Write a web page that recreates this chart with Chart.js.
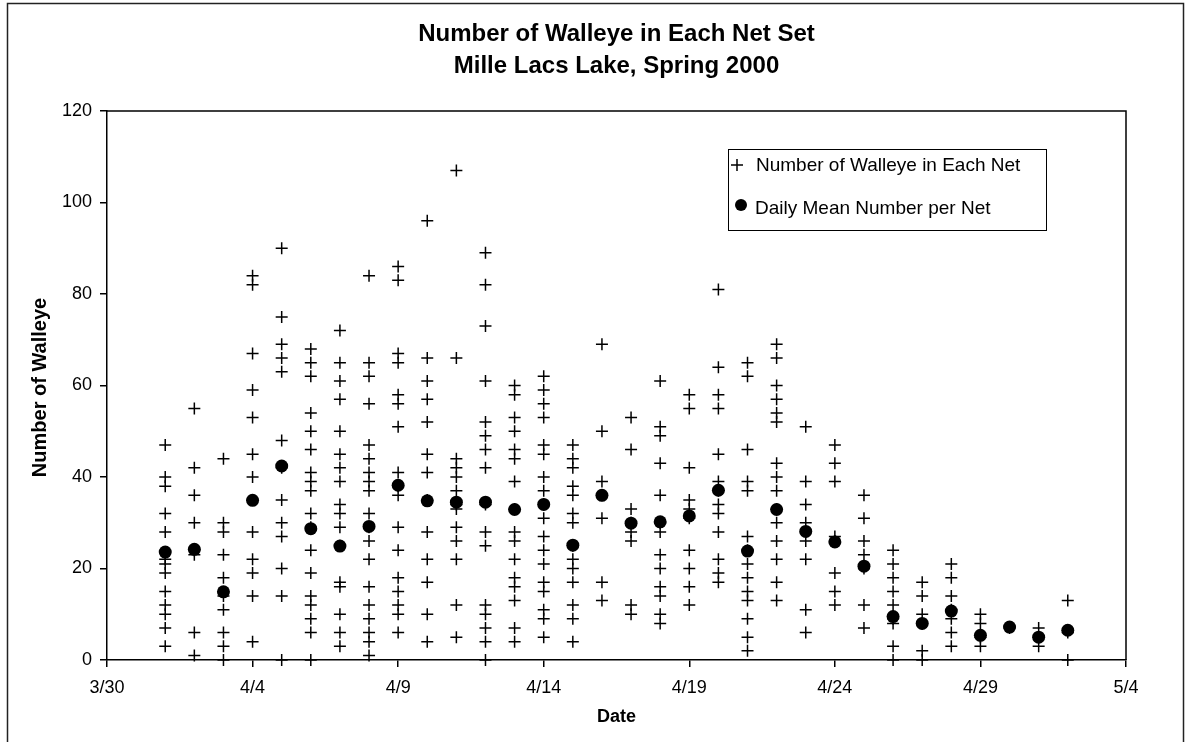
<!DOCTYPE html>
<html>
<head>
<meta charset="utf-8">
<script src="https://cdn.jsdelivr.net/npm/chart.js@4.4.1/dist/chart.umd.min.js"></script>
<style>
  body { margin: 0; background: #fff; }
  #chart { display: block; }
</style>
</head>
<body>
<canvas id="chart" width="1188" height="742"></canvas>
<script>
// データ
const netDates = ['4/1', '4/2', '4/3', '4/4', '4/5', '4/6', '4/7', '4/8', '4/9', '4/10',
  '4/11', '4/12', '4/13', '4/14', '4/15', '4/16', '4/17', '4/18', '4/19', '4/20',
  '4/21', '4/22', '4/23', '4/24', '4/25', '4/26', '4/27', '4/28', '4/29', '4/30',
  '5/1', '5/2'];

// number of walleye in each net, one list per date
const netCounts = [
  [47, 40, 38, 32, 28, 22, 21, 19, 15, 12, 10, 7, 3],
  [55, 42, 36, 30, 24, 23, 6, 1],
  [44, 30, 28, 23, 18, 14, 11, 6, 3, 0],
  [84, 82, 67, 59, 53, 45, 40, 35, 28, 22, 19, 14, 4],
  [90, 75, 69, 66, 63, 48, 42, 35, 30, 27, 20, 14, 0],
  [68, 65, 62, 54, 50, 46, 41, 39, 37, 32, 29, 24, 19, 14, 12, 9, 6, 0],
  [72, 65, 61, 57, 50, 45, 42, 39, 34, 32, 29, 25, 17, 16, 10, 6, 3],
  [84, 65, 62, 56, 47, 44, 41, 39, 37, 32, 29, 26, 22, 16, 12, 9, 6, 4, 1],
  [86, 83, 67, 65, 58, 56, 51, 41, 38, 36, 29, 24, 18, 15, 12, 10, 6],
  [96, 66, 61, 57, 52, 45, 41, 35, 28, 22, 17, 10, 4],
  [107, 66, 44, 42, 40, 37, 34, 33, 29, 26, 22, 12, 5],
  [89, 82, 73, 61, 52, 49, 46, 42, 34, 28, 25, 12, 10, 7, 4, 0],
  [60, 58, 53, 50, 46, 44, 39, 33, 28, 26, 22, 18, 16, 13, 7, 4],
  [62, 59, 56, 53, 47, 45, 40, 37, 34, 31, 27, 24, 21, 17, 15, 11, 9, 5],
  [47, 44, 42, 38, 36, 32, 30, 25, 22, 20, 17, 12, 9, 4],
  [69, 50, 39, 36, 31, 17, 13],
  [53, 46, 33, 30, 28, 26, 12, 10],
  [61, 51, 49, 43, 36, 30, 28, 23, 20, 16, 14, 10, 8],
  [58, 55, 42, 35, 33, 31, 24, 20, 16, 12],
  [81, 64, 58, 55, 45, 39, 37, 34, 32, 28, 22, 19, 17],
  [65, 62, 46, 39, 37, 27, 24, 21, 18, 15, 13, 9, 5, 2],
  [69, 66, 60, 57, 54, 52, 43, 40, 37, 33, 30, 26, 22, 17, 13],
  [51, 39, 34, 30, 28, 26, 22, 11, 6],
  [47, 43, 39, 27, 26, 19, 15, 12],
  [36, 31, 26, 23, 20, 12, 7],
  [24, 21, 18, 15, 12, 9, 8, 3, 0],
  [17, 14, 10, 8, 2, 0],
  [21, 18, 14, 11, 9, 6, 3],
  [10, 8, 5, 3],
  [7],
  [7, 5, 3],
  [13, 6, 0]
];

const dailyMeans = [23.6, 24.2, 14.9, 34.9, 42.4, 28.7, 24.9, 29.2, 38.2, 34.8,
  34.5, 34.5, 32.9, 34.0, 25.1, 36.0, 29.9, 30.2, 31.5, 37.1,
  23.8, 32.9, 28.1, 25.8, 20.5, 9.5, 8.0, 10.7, 5.4, 7.2,
  5.0, 6.5];

const xTickLabels = ['3/30', '4/4', '4/9', '4/14', '4/19', '4/24', '4/29', '5/4'];
const yTicks = [0, 20, 40, 60, 80, 100, 120];

const FONT = '"Liberation Sans", Arial, sans-serif';

// 3/30 を 0 とした日数
function dayOffset(label) {
  const [m, d] = label.split('/').map(Number);
  if (m === 3) return d - 30;
  if (m === 4) return d + 1;
  return d + 31;
}

const netPoints = [];
netDates.forEach((date, i) => {
  netCounts[i].forEach(c => netPoints.push({ x: dayOffset(date), y: c }));
});
const meanPoints = netDates.map((date, i) => ({ x: dayOffset(date), y: dailyMeans[i] }));

// タイトル・凡例・枠線
const decorPlugin = {
  id: 'decor',
  beforeDraw(chart) {
    const ctx = chart.ctx;
    ctx.save();
    ctx.fillStyle = '#fff';
    ctx.fillRect(0, 0, chart.width, chart.height);
    ctx.strokeStyle = '#222';
    ctx.lineWidth = 1.5;
    ctx.strokeRect(7.5, 3.5, 1176, 760);
    ctx.restore();
  },
  afterDraw(chart) {
    const ctx = chart.ctx;
    const a = chart.chartArea;
    const cx = (a.left + a.right) / 2;
    ctx.save();
    // plot frame top / right
    ctx.strokeStyle = '#000';
    ctx.lineWidth = 1.5;
    ctx.beginPath();
    ctx.moveTo(a.left, a.top);
    ctx.lineTo(a.right, a.top);
    ctx.lineTo(a.right, a.bottom);
    ctx.stroke();

    ctx.fillStyle = '#000';
    ctx.textAlign = 'center';
    ctx.textBaseline = 'middle';
    ctx.font = 'bold 24px ' + FONT;
    ctx.fillText('Number of Walleye in Each Net Set', cx, 34);
    ctx.fillText('Mille Lacs Lake, Spring 2000', cx, 66);

    ctx.font = 'bold 18px ' + FONT;
    ctx.fillText('Date', cx, 717);
    ctx.save();
    ctx.translate(40, (a.top + a.bottom) / 2 + 2);
    ctx.rotate(-Math.PI / 2);
    ctx.font = 'bold 20px ' + FONT;
    ctx.fillText('Number of Walleye', 0, 0);
    ctx.restore();

    // legend
    ctx.lineWidth = 1;
    ctx.strokeRect(728.5, 149.5, 318, 81);
    ctx.lineWidth = 1.5;
    ctx.beginPath();
    ctx.moveTo(731, 165); ctx.lineTo(743, 165);
    ctx.moveTo(737, 159); ctx.lineTo(737, 171);
    ctx.stroke();
    ctx.beginPath();
    ctx.arc(741, 205, 6, 0, Math.PI * 2);
    ctx.fill();
    ctx.textAlign = 'left';
    ctx.font = '19px ' + FONT;
    ctx.fillText('Number of Walleye in Each Net', 756, 166);
    ctx.fillText('Daily Mean Number per Net', 755, 209);
    ctx.restore();
  }
};

new Chart(document.getElementById('chart'), {
  type: 'scatter',
  data: {
    datasets: [
      {
        label: 'Daily Mean Number per Net',
        data: meanPoints,
        pointStyle: 'circle',
        pointRadius: 6.5,
        backgroundColor: '#000',
        borderColor: '#000',
        borderWidth: 0,
        order: 0,
        clip: false
      },
      {
        label: 'Number of Walleye in Each Net',
        data: netPoints,
        pointStyle: 'cross',
        pointRadius: 6,
        borderColor: '#000',
        borderWidth: 1.5,
        order: 1,
        clip: false
      }
    ]
  },
  options: {
    responsive: false,
    animation: false,
    layout: { padding: { top: 111, right: 62, left: 0, bottom: 0 } },
    plugins: { legend: { display: false }, tooltip: { enabled: false } },
    scales: {
      x: {
        type: 'linear',
        min: 0,
        max: 35,
        afterFit: s => { s.height = 82; },
        afterBuildTicks: s => { s.ticks = xTickLabels.map((_, i) => ({ value: i * 5 })); },
        ticks: {
          callback: v => xTickLabels[v / 5],
          color: '#000',
          font: { family: FONT, size: 18 },
          padding: 10,
          maxRotation: 0
        },
        grid: { drawOnChartArea: false, tickLength: 7, color: '#000', lineWidth: 1.5 },
        border: { color: '#000', width: 1.5 }
      },
      y: {
        min: 0,
        max: 120,
        afterFit: s => { s.width = 107; },
        afterBuildTicks: s => { s.ticks = yTicks.map(v => ({ value: v })); },
        ticks: {
          color: '#000',
          font: { family: FONT, size: 18 },
          padding: 8
        },
        grid: { drawOnChartArea: false, tickLength: 7, color: '#000', lineWidth: 1.5 },
        border: { color: '#000', width: 1.5 }
      }
    }
  },
  plugins: [decorPlugin]
});
</script>
</body>
</html>
